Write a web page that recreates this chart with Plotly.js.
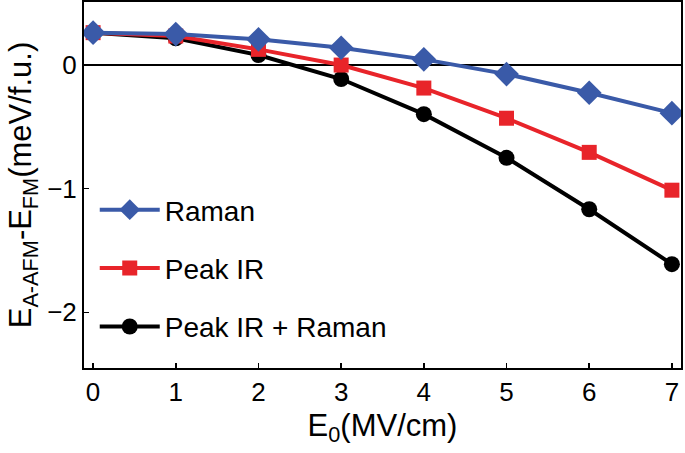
<!DOCTYPE html>
<html>
<head>
<meta charset="utf-8">
<script src="https://cdn.plot.ly/plotly-3.0.1.min.js"></script>
<style>html,body{margin:0;padding:0;background:#fff;}#chart{width:685px;height:453px;}</style>
</head>
<body>
<div id="chart"></div>
<script>
var fieldE0 = [0, 1, 2, 3, 4, 5, 6, 7];
var ramanVals = [0.262, 0.251, 0.208, 0.140, 0.046, -0.073, -0.224, -0.389];
var peakIRVals = [0.262, 0.235, 0.127, 0.0, -0.186, -0.43, -0.706, -1.012];
var peakIRRamanVals = [0.262, 0.216, 0.081, -0.113, -0.397, -0.75, -1.166, -1.61];
var xTickVals = [0, 1, 2, 3, 4, 5, 6, 7];
var yTickVals = [-2, -1, 0];

var FONT = 'Liberation Sans, Arial, Helvetica, sans-serif';

var traces = [
  {x: fieldE0, y: peakIRRamanVals, name: 'Peak IR + Raman', mode: 'lines+markers', legendgroup: 'c', legendrank: 3,
   line: {color: '#000000', width: 4}, marker: {symbol: 'circle', size: 16, color: '#000000'}},
  {x: fieldE0, y: peakIRVals, name: 'Peak IR', mode: 'lines+markers', legendgroup: 'b', legendrank: 2,
   line: {color: '#e8242a', width: 4}, marker: {symbol: 'square', size: 15, color: '#e8242a'}},
  {x: fieldE0, y: ramanVals, name: 'Raman', mode: 'lines+markers', legendgroup: 'a', legendrank: 1,
   line: {color: '#3a5aa8', width: 4}, marker: {symbol: 'diamond', size: 19, color: '#3a5aa8'}}
];

var layout = {
  width: 685, height: 453,
  margin: {l: 84, r: 4, t: 2, b: 85},
  paper_bgcolor: '#ffffff', plot_bgcolor: '#ffffff',
  font: {family: FONT, color: '#000', size: 26},
  showlegend: true,
  legend: {x: 0.018, y: 0.5, xanchor: 'left', yanchor: 'top', traceorder: 'grouped',
           tracegroupgap: 19, font: {size: 28, family: FONT}, bgcolor: 'rgba(0,0,0,0)', itemwidth: 60},
  xaxis: {range: [-0.11, 7.11], tickvals: xTickVals, ticks: 'inside', ticklen: 5, tickwidth: 1.5,
          tickcolor: '#000', showline: true, linecolor: '#000', linewidth: 2, mirror: true,
          showgrid: false, zeroline: false, tickfont: {size: 26},
          title: {text: 'E<sub>0</sub>(MV/cm)', font: {size: 31}, standoff: 8}},
  yaxis: {range: [-2.45, 0.51], tickvals: yTickVals, ticks: 'inside', ticklen: 5, tickwidth: 1.5,
          tickcolor: '#000', showline: true, linecolor: '#000', linewidth: 2, mirror: true,
          showgrid: false, zeroline: true, zerolinecolor: '#000', zerolinewidth: 1.5,
          tickfont: {size: 26},
          title: {text: 'E<sub>A-AFM</sub>-E<sub>FM</sub>(meV/f.u.)', font: {size: 31}, standoff: 6}}
};

Plotly.newPlot('chart', traces, layout, {displayModeBar: false, staticPlot: true});
</script>
</body>
</html>
